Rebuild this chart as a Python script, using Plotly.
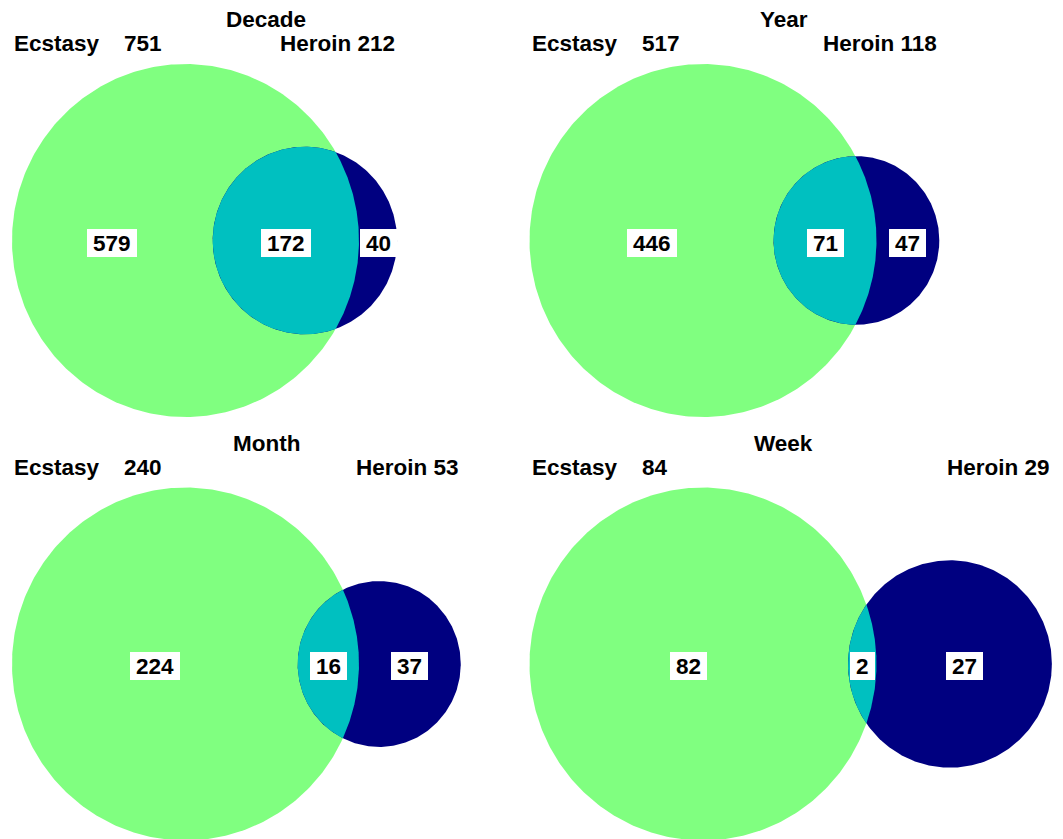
import numpy as np
import plotly.graph_objects as go

# ---------------- data ----------------
periods = ["Decade", "Year", "Month", "Week"]
set_names = ["Ecstasy", "Heroin"]
ecstasy_total = [751, 517, 240, 84]
heroin_total = [212, 118, 53, 29]
both_count = [172, 71, 16, 2]
ecstasy_only = [579, 446, 224, 82]
heroin_only = [40, 47, 37, 27]

# ---------------- styling / layout constants ----------------
W, H = 1063, 839
OFF = 8                          # page body margin
SX, SY = 173.5, 176.5            # pixels per unit radius of the Ecstasy circle
COL_X0 = [0.0, 517.5]
ROW_Y0 = [0.0, 423.5]
LEFT_PAD = 12.0
CY0 = 240.5
TITLE_X = 266.0
TITLE_DY = -221.0
LABEL_DY = -197.0
GREEN = "#80FF80"
NAVY = "#000080"
CYAN = "#00C0C0"
FONT = "Liberation Sans, Arial, sans-serif"
FS = 22.5


def lens_area(d, r1, r2):
    if d >= r1 + r2:
        return 0.0
    if d <= abs(r1 - r2):
        return np.pi * min(r1, r2) ** 2
    a1 = np.arccos((d * d + r1 * r1 - r2 * r2) / (2 * d * r1))
    a2 = np.arccos((d * d + r2 * r2 - r1 * r1) / (2 * d * r2))
    k = np.sqrt((-d + r1 + r2) * (d + r1 - r2) * (d - r1 + r2) * (d + r1 + r2))
    return r1 * r1 * a1 + r2 * r2 * a2 - 0.5 * k


def solve_d(r1, r2, target):
    lo, hi = abs(r1 - r2) + 1e-9, r1 + r2
    for _ in range(100):
        mid = 0.5 * (lo + hi)
        if lens_area(mid, r1, r2) > target:
            lo = mid
        else:
            hi = mid
    return 0.5 * (lo + hi)


fig = go.Figure()
annotations = []

t = np.linspace(0, 2 * np.pi, 400)

for i, name in enumerate(periods):
    col, row = i % 2, i // 2
    cxA = COL_X0[col] + LEFT_PAD + SX
    cy = CY0 + ROW_Y0[row]
    r1 = 1.0
    r2 = np.sqrt(heroin_total[i] / ecstasy_total[i])
    target = both_count[i] / ecstasy_total[i] * np.pi
    d = solve_d(r1, r2, target)
    cxB = cxA + d * SX

    def px(cx, u):
        return cx + SX * np.asarray(u)

    def py(v):
        return cy - SY * np.asarray(v)

    # Ecstasy circle
    fig.add_trace(go.Scatter(x=px(cxA, r1 * np.cos(t)), y=py(r1 * np.sin(t)),
                             fill="toself", fillcolor=GREEN, mode="lines",
                             line=dict(width=0, color=GREEN), hoverinfo="skip",
                             showlegend=False))
    # Heroin circle
    fig.add_trace(go.Scatter(x=px(cxB, r2 * np.cos(t)), y=py(r2 * np.sin(t)),
                             fill="toself", fillcolor=NAVY, mode="lines",
                             line=dict(width=0, color=NAVY), hoverinfo="skip",
                             showlegend=False))
    # overlap lens
    thA = np.arccos((d * d + r1 * r1 - r2 * r2) / (2 * d * r1))
    thB = np.arccos((d * d + r2 * r2 - r1 * r1) / (2 * d * r2))
    aA = np.linspace(-thA, thA, 200)
    aB = np.linspace(np.pi - thB, np.pi + thB, 200)
    lx = np.concatenate([px(cxA, r1 * np.cos(aA)), px(cxB, r2 * np.cos(aB))])
    ly = np.concatenate([py(r1 * np.sin(aA)), py(r2 * np.sin(aB))])
    fig.add_trace(go.Scatter(x=lx, y=ly, fill="toself", fillcolor=CYAN, mode="lines",
                             line=dict(width=0, color=CYAN), hoverinfo="skip",
                             showlegend=False))

    # edges along the centre line
    a_left = cxA - r1 * SX
    a_right = cxA + r1 * SX
    b_left = cxB - r2 * SX
    b_right = cxB + r2 * SX

    bold = dict(family=FONT, size=FS, color="black", weight="bold")

    # title
    annotations.append(dict(x=COL_X0[col] + TITLE_X, y=cy + TITLE_DY, text=name,
                            xref="x", yref="y", showarrow=False, font=bold,
                            xanchor="center", yanchor="middle"))
    # set labels
    annotations.append(dict(x=a_left, y=cy + LABEL_DY,
                            text=f"{set_names[0]}\u00a0\u00a0\u00a0\u00a0{ecstasy_total[i]}",
                            xref="x", yref="y", showarrow=False, font=bold,
                            xanchor="left", yanchor="middle"))
    annotations.append(dict(x=b_right, y=cy + LABEL_DY,
                            text=f"{set_names[1]} {heroin_total[i]}",
                            xref="x", yref="y", showarrow=False, font=bold,
                            xanchor="right", yanchor="middle"))
    # region counts
    for xv, val in [((a_left + b_left) / 2, ecstasy_only[i]),
                    ((b_left + a_right) / 2, both_count[i]),
                    ((a_right + b_right) / 2, heroin_only[i])]:
        annotations.append(dict(x=xv, y=cy + 2, text=f"\u2009{val}\u2009",
                                xref="x", yref="y", showarrow=False, font=bold,
                                bgcolor="white", borderpad=1.5, borderwidth=0,
                                xanchor="center", yanchor="middle"))

fig.update_layout(
    width=W - OFF, height=H - OFF,
    margin=dict(l=0, r=0, t=0, b=0),
    paper_bgcolor="white", plot_bgcolor="white",
    xaxis=dict(range=[OFF, W], visible=False, fixedrange=True),
    yaxis=dict(range=[H, OFF], visible=False, fixedrange=True),
    annotations=annotations,
    showlegend=False,
)

fig.write_html("out.html")
